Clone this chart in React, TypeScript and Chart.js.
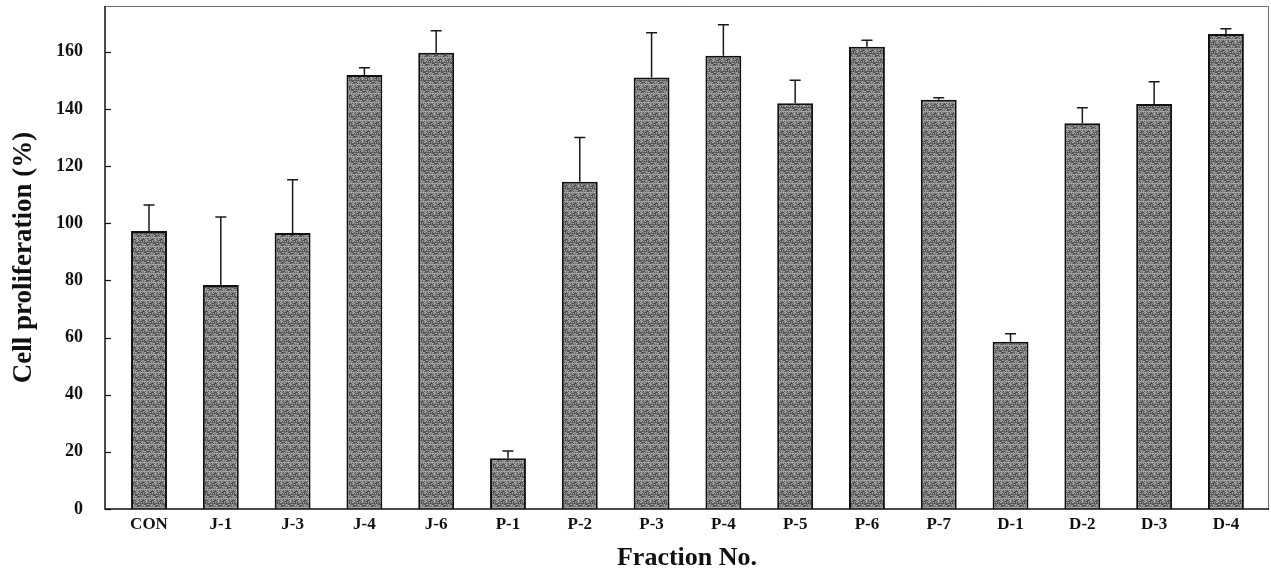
import React, { useEffect, useRef } from "react";
import { Chart, registerables } from "chart.js";

Chart.register(...registerables);

const categories = ["CON", "J-1", "J-3", "J-4", "J-6", "P-1", "P-2", "P-3", "P-4", "P-5", "P-6", "P-7", "D-1", "D-2", "D-3", "D-4"];
const meanValues = [97.3, 78.4, 96.6, 151.9, 159.6, 17.8, 114.5, 151.0, 158.6, 142.0, 161.7, 143.2, 58.5, 135.0, 141.7, 166.2];
const errorValues = [9.1, 23.8, 18.6, 2.5, 7.7, 2.5, 15.5, 15.6, 10.8, 8.0, 2.3, 0.7, 2.8, 5.4, 7.8, 1.8];
const yTickValues = [0, 20, 40, 60, 80, 100, 120, 140, 160];
const yAxisTitle = "Cell proliferation (%)";
const xAxisTitle = "Fraction No.";

const FONT = "'Liberation Serif', 'DejaVu Serif', serif";

function makePattern(ctx: CanvasRenderingContext2D): CanvasPattern | string {
  const size = 9;
  const c = document.createElement("canvas");
  c.width = size;
  c.height = size;
  const p = c.getContext("2d");
  if (!p) return "#808080";
  const levels = [0x50, 0x9c, 0x6a, 0xac, 0x48, 0x8e, 0x7c, 0xa2, 0x5c];
  for (let x = 0; x < size; x++) {
    for (let y = 0; y < size; y++) {
      const idx = (x * 4 + y * 7 + ((x * y) % 5)) % levels.length;
      const g = levels[idx];
      p.fillStyle = `rgb(${g},${g},${g})`;
      p.fillRect(x, y, 1, 1);
    }
  }
  return ctx.createPattern(c, "repeat") || "#808080";
}

const framePlugin = {
  id: "frame",
  afterDatasetsDraw(chart: any) {
    const ctx = chart.ctx;
    const y = chart.scales.y;
    const meta = chart.getDatasetMeta(0);
    ctx.save();
    ctx.strokeStyle = "#1a1a1a";
    ctx.lineWidth = 1.5;
    meta.data.forEach((bar: any, i: number) => {
      const top = y.getPixelForValue(meanValues[i]);
      const end = y.getPixelForValue(meanValues[i] + errorValues[i]);
      ctx.beginPath();
      ctx.moveTo(bar.x, top);
      ctx.lineTo(bar.x, end);
      ctx.moveTo(bar.x - 5.5, end);
      ctx.lineTo(bar.x + 5.5, end);
      ctx.stroke();
    });
    ctx.restore();
  },
  afterDraw(chart: any) {
    const ctx = chart.ctx;
    const a = chart.chartArea;
    const y = chart.scales.y;
    ctx.save();
    ctx.strokeStyle = "#707070";
    ctx.lineWidth = 1;
    ctx.beginPath();
    ctx.moveTo(a.left, a.top + 0.5);
    ctx.lineTo(a.right - 0.5, a.top + 0.5);
    ctx.lineTo(a.right - 0.5, a.bottom);
    ctx.stroke();
    ctx.strokeStyle = "#111";
    ctx.lineWidth = 1.5;
    ctx.beginPath();
    ctx.moveTo(a.left, a.top);
    ctx.lineTo(a.left, a.bottom);
    ctx.lineTo(a.right, a.bottom);
    ctx.stroke();
    ctx.lineWidth = 1.2;
    yTickValues.forEach((v) => {
      const py = Math.round(y.getPixelForValue(v)) + 0.5;
      ctx.beginPath();
      ctx.moveTo(a.left, py);
      ctx.lineTo(a.left + 6, py);
      ctx.stroke();
    });
    ctx.restore();
  },
};

export default function App() {
  const ref = useRef<HTMLCanvasElement | null>(null);
  useEffect(() => {
    document.body.style.margin = "0";
    const canvas = ref.current;
    if (!canvas) return;
    const ctx = canvas.getContext("2d");
    if (!ctx) return;
    const pattern = makePattern(ctx);
    const chart = new Chart(ctx, {
      type: "bar",
      data: {
        datasets: [
          {
            data: meanValues.map((v, i) => ({ x: i, y: v })),
            backgroundColor: pattern as any,
            borderColor: "#111",
            borderWidth: 2,
            borderSkipped: "bottom",
            barPercentage: 0.5,
            categoryPercentage: 1,
          },
        ],
      },
      options: {
        responsive: false,
        animation: false,
        layout: { padding: { top: 6, right: 2, left: 0, bottom: 0 } },
        plugins: { legend: { display: false }, tooltip: { enabled: false } },
        scales: {
          x: {
            type: "linear",
            offset: false,
            min: -0.613,
            max: 15.6,
            grid: { display: false, drawTicks: false },
            border: { display: false },
            afterBuildTicks: (s: any) => {
              s.ticks = categories.map((_, i) => ({ value: i }));
            },
            afterFit: (s: any) => {
              s.height = 68;
              s.paddingLeft = 0;
              s.paddingRight = 0;
            },
            ticks: {
              autoSkip: false,
              maxRotation: 0,
              padding: 5,
              color: "#111",
              font: { family: FONT, size: 17, weight: "bold" },
              callback: (v: any) => categories[v] ?? "",
            },
            title: {
              display: true,
              text: xAxisTitle,
              color: "#111",
              padding: { top: 0, bottom: 3 },
              font: { family: FONT, size: 26, weight: "bold" },
            },
          },
          y: {
            min: 0,
            max: 176,
            grid: { display: false, drawTicks: false },
            border: { display: false },
            afterBuildTicks: (s: any) => {
              s.ticks = yTickValues.map((v) => ({ value: v }));
            },
            afterFit: (s: any) => {
              s.width = 105;
              s.paddingTop = 0;
              s.paddingBottom = 0;
            },
            ticks: {
              padding: 22,
              color: "#111",
              font: { family: FONT, size: 18, weight: "bold" },
            },
            title: {
              display: true,
              text: yAxisTitle,
              color: "#111",
              padding: { top: 8, bottom: 0 },
              font: { family: FONT, size: 27, weight: "bold" },
            },
          },
        },
      },
      plugins: [framePlugin],
    });
    return () => chart.destroy();
  }, []);
  return (
    <div style={{ width: 1271, height: 577 }}>
      <canvas ref={ref} width={1271} height={577} style={{ display: "block" }} />
    </div>
  );
}
